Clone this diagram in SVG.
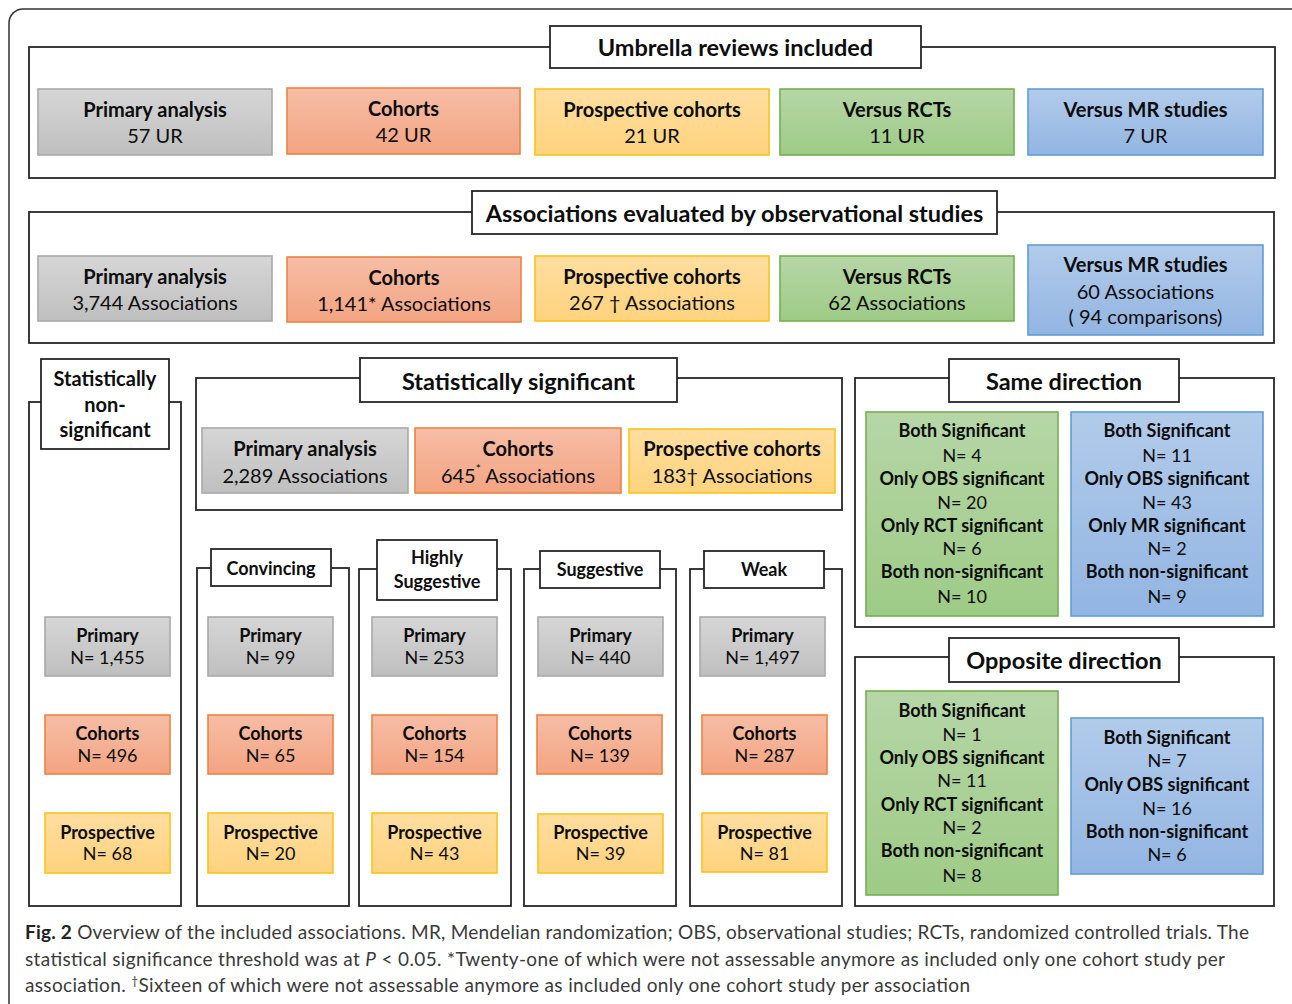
<svg xmlns="http://www.w3.org/2000/svg" width="1292" height="1004" viewBox="0 0 1292 1004">
<defs>
<linearGradient id="gGray" x1="0" y1="0" x2="0" y2="1"><stop offset="0" stop-color="#d6d6d6"/><stop offset="1" stop-color="#bfbfbf"/></linearGradient>
<linearGradient id="gOr" x1="0" y1="0" x2="0" y2="1"><stop offset="0" stop-color="#f6bda6"/><stop offset="1" stop-color="#f3a482"/></linearGradient>
<linearGradient id="gYe" x1="0" y1="0" x2="0" y2="1"><stop offset="0" stop-color="#ffdea0"/><stop offset="1" stop-color="#ffd37e"/></linearGradient>
<linearGradient id="gGr" x1="0" y1="0" x2="0" y2="1"><stop offset="0" stop-color="#b6d6a7"/><stop offset="1" stop-color="#9ecb86"/></linearGradient>
<linearGradient id="gBl" x1="0" y1="0" x2="0" y2="1"><stop offset="0" stop-color="#b2cbea"/><stop offset="1" stop-color="#92b5e2"/></linearGradient>
<style>
.frame{fill:none;stroke:#262626;stroke-width:1.8}
.tbox{fill:#fff;stroke:#262626;stroke-width:1.8}
.gray{fill:url(#gGray);stroke:#a9a9a9;stroke-width:1.6}
.or{fill:url(#gOr);stroke:#ee8440;stroke-width:1.6}
.ye{fill:url(#gYe);stroke:#ffc21a;stroke-width:1.6}
.gr{fill:url(#gGr);stroke:#74b04f;stroke-width:1.6}
.bl{fill:url(#gBl);stroke:#5f9ed6;stroke-width:1.6}
text{font-family:Lato,"Open Sans","Liberation Sans",sans-serif;fill:#0d0d0d;text-anchor:middle;dominant-baseline:central}
.b{font-weight:700}
.h1{font-size:23.5px;font-weight:700}
.m{font-size:20px}
.s{font-size:18px}
.cap{font-size:19px;fill:#3a3a3a;text-anchor:start;dominant-baseline:auto}
</style>
</defs>
<rect x="9" y="9" width="1300" height="1010" rx="14" fill="none" stroke="#333" stroke-width="1.5"/>

<g id="umbrella-reviews">
<rect class="frame" x="29" y="47" width="1246" height="131"/>
<rect class="tbox" x="550" y="26" width="371" height="42"/>
<text class="h1" x="735.5" y="47">Umbrella reviews included</text>
</g>
<g id="ur-primary"><rect class="gray" x="38" y="89" width="234" height="66"/><text class="m b" x="155" y="109">Primary analysis</text><text class="m" x="155" y="135">57 UR</text></g>
<g id="ur-cohorts"><rect class="or" x="287" y="88" width="233" height="66"/><text class="m b" x="403.5" y="108">Cohorts</text><text class="m" x="403.5" y="134">42 UR</text></g>
<g id="ur-prospective"><rect class="ye" x="535" y="89" width="234" height="66"/><text class="m b" x="652" y="109">Prospective cohorts</text><text class="m" x="652" y="135">21 UR</text></g>
<g id="ur-rcts"><rect class="gr" x="780" y="89" width="234" height="66"/><text class="m b" x="897" y="109">Versus RCTs</text><text class="m" x="897" y="135">11 UR</text></g>
<g id="ur-mr"><rect class="bl" x="1028" y="89" width="235" height="66"/><text class="m b" x="1145.5" y="109">Versus MR studies</text><text class="m" x="1145.5" y="135">7 UR</text></g>

<g id="associations">
<rect class="frame" x="29" y="212" width="1245" height="131"/>
<rect class="tbox" x="472" y="191" width="525" height="43"/>
<text class="h1" x="734.5" y="213">Associations evaluated by observational studies</text>
</g>
<g id="as-primary"><rect class="gray" x="38" y="256" width="234" height="65"/><text class="m b" x="155" y="276">Primary analysis</text><text class="m" x="155" y="302">3,744 Associations</text></g>
<g id="as-cohorts"><rect class="or" x="287" y="257" width="234" height="65"/><text class="m b" x="404" y="277">Cohorts</text><text class="m" x="404" y="303">1,141* Associations</text></g>
<g id="as-prospective"><rect class="ye" x="535" y="256" width="234" height="65"/><text class="m b" x="652" y="276">Prospective cohorts</text><text class="m" x="652" y="302">267 † Associations</text></g>
<g id="as-rcts"><rect class="gr" x="780" y="256" width="234" height="65"/><text class="m b" x="897" y="276">Versus RCTs</text><text class="m" x="897" y="302">62 Associations</text></g>
<g id="as-mr"><rect class="bl" x="1028" y="245" width="235" height="90"/><text class="m b" x="1145.5" y="264">Versus MR studies</text><text class="m" x="1145.5" y="291">60 Associations</text><text class="m" x="1145.5" y="316">( 94 comparisons)</text></g>

<g id="non-significant">
<rect class="frame" x="29" y="402" width="152" height="504"/>
<rect class="tbox" x="41" y="359" width="128" height="90"/>
<text class="m b" x="105" y="378">Statistically</text><text class="m b" x="105" y="404">non-</text><text class="m b" x="105" y="429">significant</text>
</g>
<g id="ns-primary"><rect class="gray" x="45" y="617" width="125" height="59"/><text class="s b" x="107.5" y="635">Primary</text><text class="s" x="107.5" y="657">N= 1,455</text></g>
<g id="ns-cohorts"><rect class="or" x="45" y="715" width="125" height="59"/><text class="s b" x="107.5" y="733">Cohorts</text><text class="s" x="107.5" y="755">N= 496</text></g>
<g id="ns-prospective"><rect class="ye" x="45" y="813" width="125" height="60"/><text class="s b" x="107.5" y="832">Prospective</text><text class="s" x="107.5" y="853">N= 68</text></g>

<g id="significant">
<rect class="frame" x="196" y="378" width="646" height="132"/>
<rect class="tbox" x="360" y="358" width="317" height="44"/>
<text class="h1" x="518.5" y="381">Statistically significant</text>
</g>
<g id="sig-primary"><rect class="gray" x="202" y="428" width="206" height="65"/><text class="m b" x="305" y="448">Primary analysis</text><text class="m" x="305" y="475">2,289 Associations</text></g>
<g id="sig-cohorts"><rect class="or" x="415" y="428" width="206" height="65"/><text class="m b" x="518" y="448">Cohorts</text><text class="m" x="518" y="475">645<tspan font-size="12" dy="-7">*</tspan><tspan dy="7"> Associations</tspan></text></g>
<g id="sig-prospective"><rect class="ye" x="629" y="429" width="206" height="64"/><text class="m b" x="732" y="448">Prospective cohorts</text><text class="m" x="732" y="475">183† Associations</text></g>

<g id="convincing">
<rect class="frame" x="197" y="568" width="152" height="338"/>
<rect class="tbox" x="211" y="549" width="120" height="37"/>
<text class="s b" x="271" y="567.5">Convincing</text>
</g>
<g id="cv-primary"><rect class="gray" x="208" y="617" width="125" height="59"/><text class="s b" x="270.5" y="635">Primary</text><text class="s" x="270.5" y="657">N= 99</text></g>
<g id="cv-cohorts"><rect class="or" x="208" y="715" width="125" height="59"/><text class="s b" x="270.5" y="733">Cohorts</text><text class="s" x="270.5" y="755">N= 65</text></g>
<g id="cv-prospective"><rect class="ye" x="208" y="813" width="125" height="60"/><text class="s b" x="270.5" y="832">Prospective</text><text class="s" x="270.5" y="853">N= 20</text></g>

<g id="highly-suggestive">
<rect class="frame" x="359" y="569" width="152" height="337"/>
<rect class="tbox" x="377" y="540" width="120" height="60"/>
<text class="s b" x="437" y="557">Highly</text><text class="s b" x="437" y="581">Suggestive</text>
</g>
<g id="hs-primary"><rect class="gray" x="372" y="617" width="125" height="59"/><text class="s b" x="434.5" y="635">Primary</text><text class="s" x="434.5" y="657">N= 253</text></g>
<g id="hs-cohorts"><rect class="or" x="372" y="715" width="125" height="59"/><text class="s b" x="434.5" y="733">Cohorts</text><text class="s" x="434.5" y="755">N= 154</text></g>
<g id="hs-prospective"><rect class="ye" x="372" y="813" width="125" height="60"/><text class="s b" x="434.5" y="832">Prospective</text><text class="s" x="434.5" y="853">N= 43</text></g>

<g id="suggestive">
<rect class="frame" x="524" y="569" width="152" height="337"/>
<rect class="tbox" x="540" y="551" width="120" height="37"/>
<text class="s b" x="600" y="569">Suggestive</text>
</g>
<g id="su-primary"><rect class="gray" x="538" y="617" width="125" height="59"/><text class="s b" x="600.5" y="635">Primary</text><text class="s" x="600.5" y="657">N= 440</text></g>
<g id="su-cohorts"><rect class="or" x="537" y="715" width="125" height="59"/><text class="s b" x="600" y="733">Cohorts</text><text class="s" x="600" y="755">N= 139</text></g>
<g id="su-prospective"><rect class="ye" x="538" y="814" width="125" height="59"/><text class="s b" x="600.5" y="832">Prospective</text><text class="s" x="600.5" y="853">N= 39</text></g>

<g id="weak">
<rect class="frame" x="690" y="569" width="152" height="337"/>
<rect class="tbox" x="704" y="551" width="120" height="37"/>
<text class="s b" x="764" y="569">Weak</text>
</g>
<g id="wk-primary"><rect class="gray" x="700" y="617" width="125" height="59"/><text class="s b" x="762.5" y="635">Primary</text><text class="s" x="762.5" y="657">N= 1,497</text></g>
<g id="wk-cohorts"><rect class="or" x="702" y="715" width="125" height="59"/><text class="s b" x="764.5" y="733">Cohorts</text><text class="s" x="764.5" y="755">N= 287</text></g>
<g id="wk-prospective"><rect class="ye" x="702" y="813" width="125" height="59"/><text class="s b" x="764.5" y="832">Prospective</text><text class="s" x="764.5" y="853">N= 81</text></g>

<g id="same-direction">
<rect class="frame" x="855" y="378" width="419" height="249"/>
<rect class="tbox" x="949" y="359" width="230" height="43"/>
<text class="h1" x="1064" y="381">Same direction</text>
</g>
<g id="same-rct"><rect class="gr" x="866" y="412" width="192" height="204"/>
<text class="s b" x="962" y="430">Both Significant</text><text class="s" x="962" y="455">N= 4</text>
<text class="s b" x="962" y="478">Only OBS significant</text><text class="s" x="962" y="502">N= 20</text>
<text class="s b" x="962" y="525">Only RCT significant</text><text class="s" x="962" y="548">N= 6</text>
<text class="s b" x="962" y="571">Both non-significant</text><text class="s" x="962" y="596">N= 10</text></g>
<g id="same-mr"><rect class="bl" x="1071" y="412" width="192" height="204"/>
<text class="s b" x="1167" y="430">Both Significant</text><text class="s" x="1167" y="455">N= 11</text>
<text class="s b" x="1167" y="478">Only OBS significant</text><text class="s" x="1167" y="502">N= 43</text>
<text class="s b" x="1167" y="525">Only MR significant</text><text class="s" x="1167" y="548">N= 2</text>
<text class="s b" x="1167" y="571">Both non-significant</text><text class="s" x="1167" y="596">N= 9</text></g>

<g id="opposite-direction">
<rect class="frame" x="855" y="657" width="419" height="249"/>
<rect class="tbox" x="949" y="638" width="230" height="44"/>
<text class="h1" x="1064" y="660">Opposite direction</text>
</g>
<g id="opp-rct"><rect class="gr" x="866" y="691" width="192" height="204"/>
<text class="s b" x="962" y="710">Both Significant</text><text class="s" x="962" y="734">N= 1</text>
<text class="s b" x="962" y="757">Only OBS significant</text><text class="s" x="962" y="780">N= 11</text>
<text class="s b" x="962" y="804">Only RCT significant</text><text class="s" x="962" y="827">N= 2</text>
<text class="s b" x="962" y="850">Both non-significant</text><text class="s" x="962" y="875">N= 8</text></g>
<g id="opp-mr"><rect class="bl" x="1071" y="718" width="192" height="156"/>
<text class="s b" x="1167" y="737">Both Significant</text><text class="s" x="1167" y="760">N= 7</text>
<text class="s b" x="1167" y="784">Only OBS significant</text><text class="s" x="1167" y="808">N= 16</text>
<text class="s b" x="1167" y="831">Both non-significant</text><text class="s" x="1167" y="854">N= 6</text></g>

<g id="connectors"/>

<g id="caption">
<text class="cap" x="25" y="939" textLength="1224" lengthAdjust="spacing"><tspan font-weight="700" fill="#222">Fig. 2</tspan> Overview of the included associations. MR, Mendelian randomization; OBS, observational studies; RCTs, randomized controlled trials. The</text>
<text class="cap" x="25" y="966" textLength="1200" lengthAdjust="spacing">statistical significance threshold was at <tspan font-style="italic">P</tspan> &lt; 0.05. *Twenty-one of which were not assessable anymore as included only one cohort study per</text>
<text class="cap" x="25" y="992" textLength="945" lengthAdjust="spacing">association. <tspan font-size="12" dy="-7">†</tspan><tspan dy="7">Sixteen of which were not assessable anymore as included only one cohort study per association</tspan></text>
</g>
</svg>
